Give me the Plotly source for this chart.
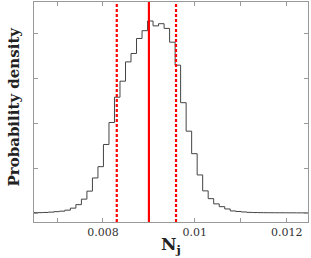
import plotly.graph_objects as go

# Histogram bin edges (Nj) and probability density per bin
bin_edges = [0.00645, 0.00657, 0.00669, 0.00681, 0.00693, 0.00705, 0.00717, 0.00729,
             0.00741, 0.00753, 0.00765, 0.00777, 0.00789, 0.00801, 0.00813, 0.00825,
             0.00837, 0.00849, 0.00861, 0.00873, 0.00885, 0.00897, 0.00909, 0.00921,
             0.00933, 0.00945, 0.00957, 0.00969, 0.00981, 0.00993, 0.01005, 0.01017,
             0.01029, 0.01041, 0.01053, 0.01065, 0.01077, 0.01089, 0.01101, 0.01113,
             0.01125, 0.01137, 0.01149, 0.01161, 0.01173, 0.01185, 0.01197, 0.01209,
             0.01221, 0.01233, 0.01245, 0.01257]
density = [0.018, 0.018, 0.022, 0.029, 0.040, 0.051, 0.073, 0.118, 0.196, 0.318,
           0.496, 0.789, 1.040, 1.533, 2.022, 2.584, 2.940, 3.369, 3.556, 3.889,
           4.062, 4.278, 4.169, 4.218, 4.113, 3.807, 3.296, 2.462, 1.829, 1.329,
           0.856, 0.502, 0.329, 0.213, 0.151, 0.100, 0.056, 0.044, 0.033, 0.024,
           0.020, 0.018, 0.017, 0.016, 0.015, 0.015, 0.014, 0.014, 0.013, 0.013,
           0.013]

median = 0.00900
lower = 0.00830
upper = 0.00959

x_tickvals = [0.007, 0.008, 0.009, 0.010, 0.011, 0.012]
x_ticktext = ["", "0.008", "", "0.01", "", "0.012"]
y_tickvals = [0, 1, 2, 3, 4]

xs = list(bin_edges)
ys = list(density) + [density[-1]]

fig = go.Figure()
fig.add_trace(go.Scatter(x=xs, y=ys, mode="lines", line=dict(color="#444444", width=1, shape="hv"),
                         hoverinfo="skip", showlegend=False))

fig.add_shape(type="line", xref="x", yref="paper", x0=median, x1=median, y0=0, y1=1,
              line=dict(color="#ff0000", width=2.2))
for v in (lower, upper):
    fig.add_shape(type="line", xref="x", yref="paper", x0=v, x1=v, y0=0, y1=1,
                  line=dict(color="#ff0000", width=2.2, dash="3px,2px"))

axis_common = dict(showline=True, linecolor="#999999", linewidth=1, mirror="ticks",
                   ticks="inside", ticklen=4, tickcolor="#999999", showgrid=False,
                   zeroline=False, automargin=False)

fig.update_xaxes(range=[0.006498, 0.012463], tickvals=x_tickvals, ticktext=x_ticktext,
                 tickfont=dict(family="DejaVu Serif", size=11, color="#333333"),
                 **axis_common)
fig.update_yaxes(range=[-0.19, 4.70], tickvals=y_tickvals, showticklabels=False,
                 **axis_common)

fig.add_annotation(text="<b>N<sub>j</sub></b>", xref="paper", yref="paper", x=0.5, y=-0.105,
                   xanchor="center", yanchor="middle", showarrow=False,
                   font=dict(family="DejaVu Serif", size=17, color="#222222"))
fig.add_annotation(text="<b>Probability density</b>", xref="paper", yref="paper",
                   x=-0.0766, y=0.525, xanchor="center", yanchor="middle", textangle=-90,
                   showarrow=False, font=dict(family="DejaVu Serif", size=15, color="#222222"))

fig.update_layout(width=311, height=258, margin=dict(l=34, r=3, t=2, b=36),
                  paper_bgcolor="white", plot_bgcolor="white")

fig.write_html("out.html", config={"displayModeBar": False},
               post_script="document.body.style.margin='0';document.body.style.padding='0';")
